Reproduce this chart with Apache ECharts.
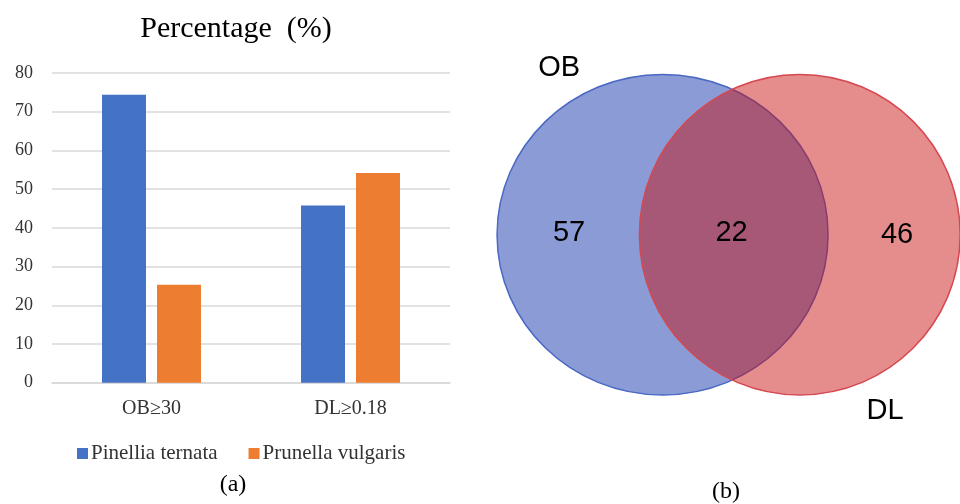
<!DOCTYPE html>
<html>
<head>
<meta charset="utf-8">
<script src="https://cdn.jsdelivr.net/npm/echarts@6/dist/echarts.min.js"></script>
<style>
    html, body { margin: 0; padding: 0; background: #fff; }
    #main { width: 960px; height: 504px; }
</style>
</head>
<body>
<div id="main"></div>
<script>
    // (a) bar chart data
    var categories = ['OB≥30', 'DL≥0.18'];
    var seriesNames = ['Pinellia ternata', 'Prunella vulgaris'];
    var pinellia = [74.4, 45.8];
    var prunella = [25.3, 54.2];
    var yMin = 0, yMax = 80, yStep = 10;

    // (b) venn data
    var vennSets = ['OB', 'DL'];
    var vennCounts = [57, 22, 46]; // OB only, both, DL only

    // venn layout, in circle-radius units (cx, cy, rx, ry)
    var vennCircles = [[0, 0, 1, 1], [0.829, 0, 0.969, 1.0]];
    var countPos = [[-0.565, 0.01], [0.417, 0.01], [1.417, 0]];
    var setLabelPos = [[-0.625, 1.04], [1.344, -1.10]];

    var serif = '"Liberation Serif", "Times New Roman", serif';
    var sans = '"Liberation Sans", Arial, sans-serif';
    var vennFill = ['rgba(11,47,170,0.48)', 'rgba(201,14,14,0.48)'];
    var vennStroke = ['#4A68C4', '#D64850'];

    var myChart = echarts.init(document.getElementById('main'));
    myChart.setOption({
        animation: false,
        graphic: [
            { type: 'text', x: 236, y: 29, style: { text: 'Percentage\u2002(%)', font: '30px ' + serif, fill: '#000', align: 'center', verticalAlign: 'middle' } },
            { type: 'text', x: 233, y: 485, style: { text: '(a)', font: '24px ' + serif, fill: '#000', align: 'center', verticalAlign: 'middle' } },
            { type: 'text', x: 726, y: 492, style: { text: '(b)', font: '24px ' + serif, fill: '#000', align: 'center', verticalAlign: 'middle' } }
        ],
        legend: {
            left: 77,
            top: 443,
            padding: 0,
            itemWidth: 11,
            itemHeight: 11,
            itemGap: 31,
            icon: 'rect',
            data: seriesNames,
            textStyle: { fontFamily: serif, fontSize: 21, color: '#333', padding: [0, 0, 0, -2] }
        },
        grid: [
            { left: 52, right: 510, top: 73, bottom: 121.3 },
            { left: 480, width: 480, top: 74.4, height: 320.6 }
        ],
        xAxis: [
            {
                type: 'category',
                gridIndex: 0,
                data: categories,
                axisTick: { show: false }, //坐标轴刻度
                axisLine: { lineStyle: { color: '#D9D9D9', width: 1.5 } },
                axisLabel: { fontFamily: serif, fontSize: 20, color: '#333', margin: 16 }
            },
            { type: 'value', gridIndex: 1, min: -1.103, max: 1.797, show: false }
        ],
        yAxis: [
            {
                type: 'value',
                gridIndex: 0,
                min: yMin,
                max: yMax,
                interval: yStep,
                axisLine: { show: false },
                axisTick: { show: false },
                splitLine: { lineStyle: { color: '#D9D9D9', width: 1.5 } },
                axisLabel: { fontFamily: serif, fontSize: 18, color: '#333', margin: 19 }
            },
            { type: 'value', gridIndex: 1, min: -1, max: 1, show: false }
        ],
        series: [
            {
                name: seriesNames[0],
                type: 'bar',
                barWidth: 44,
                barGap: '25%',
                itemStyle: { color: '#4472C4' },
                data: pinellia
            },
            {
                name: seriesNames[1],
                type: 'bar',
                barWidth: 44,
                itemStyle: { color: '#ED7D31' },
                data: prunella
            },
            {
                type: 'custom',
                xAxisIndex: 1,
                yAxisIndex: 1,
                silent: true,
                data: vennCircles,
                renderItem: function (params, api) {
                    var c = api.coord([api.value(0), api.value(1)]);
                    var s = api.size([api.value(2), api.value(3)]);
                    return {
                        type: 'ellipse',
                        shape: { cx: c[0], cy: c[1], rx: s[0], ry: s[1] },
                        style: { fill: vennFill[params.dataIndex], stroke: vennStroke[params.dataIndex], lineWidth: 1.5 }
                    };
                }
            },
            {
                type: 'custom',
                xAxisIndex: 1,
                yAxisIndex: 1,
                silent: true,
                data: countPos.map(function (p, i) { return [p[0], p[1], vennCounts[i]]; })
                    .concat(setLabelPos.map(function (p, i) { return [p[0], p[1], vennSets[i]]; })),
                renderItem: function (params, api) {
                    var c = api.coord([api.value(0), api.value(1)]);
                    var d = params.dataIndex < 3 ? vennCounts[params.dataIndex] : vennSets[params.dataIndex - 3];
                    return {
                        type: 'text',
                        x: c[0],
                        y: c[1],
                        style: { text: String(d), font: '29px ' + sans, fill: '#000', align: 'center', verticalAlign: 'middle' }
                    };
                }
            }
        ]
    });
</script>
</body>
</html>
